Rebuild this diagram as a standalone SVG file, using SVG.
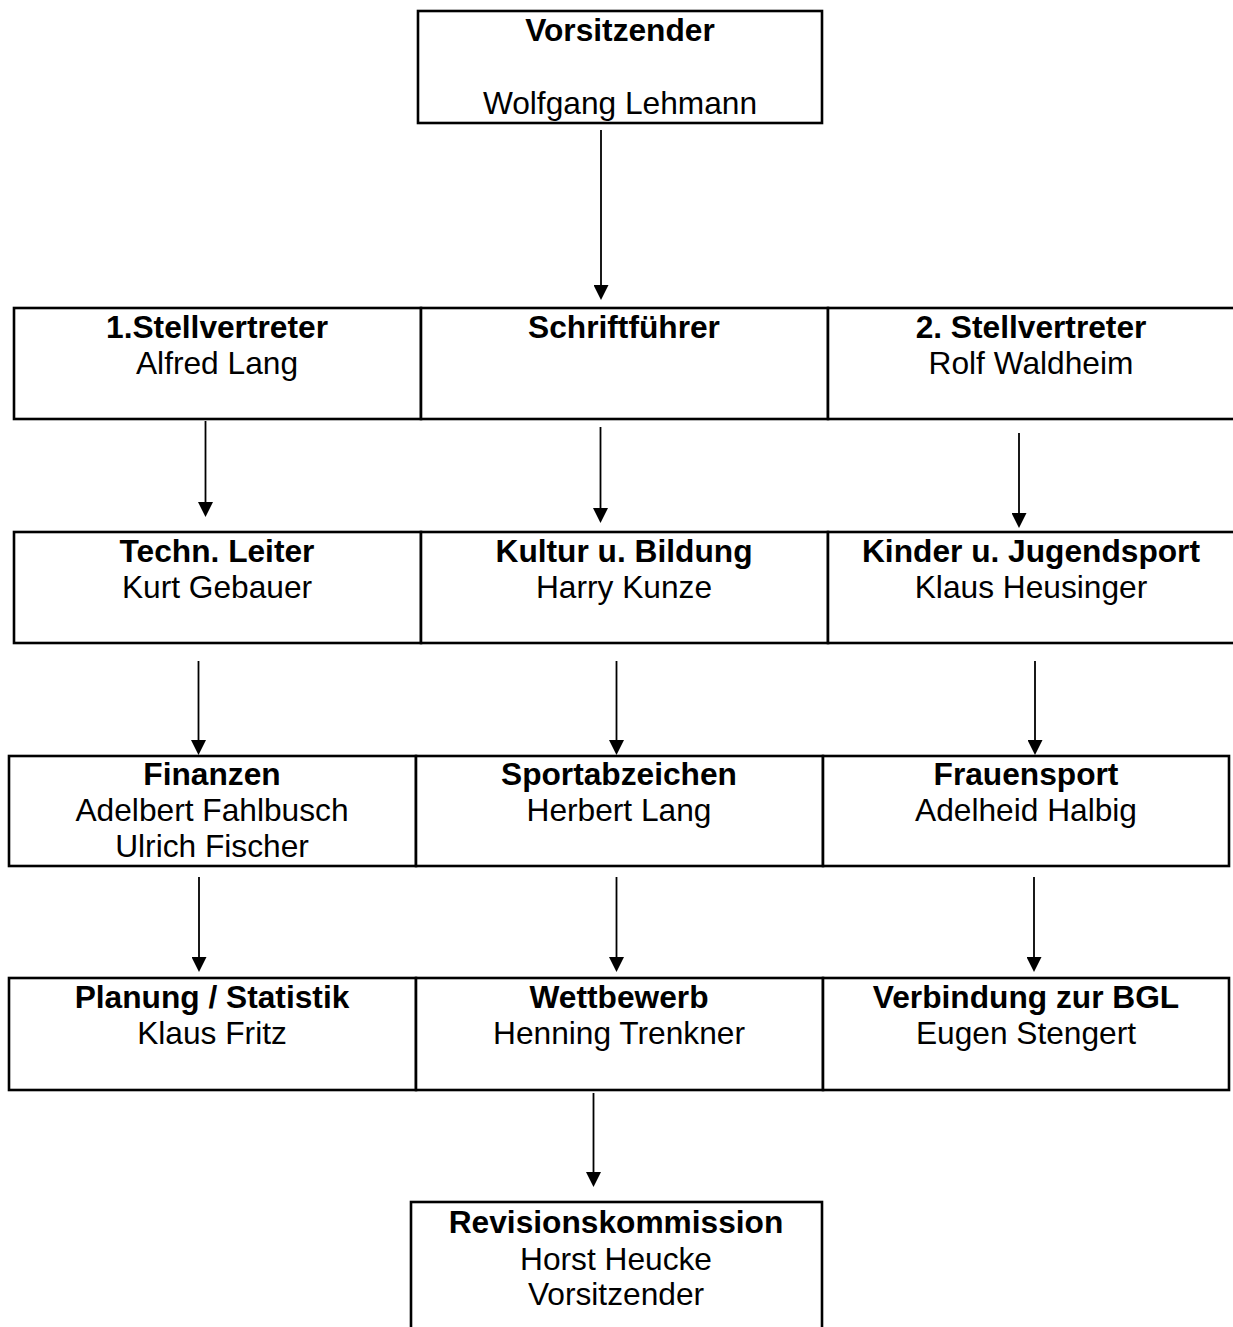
<svg xmlns="http://www.w3.org/2000/svg" width="1233" height="1327" viewBox="0 0 1233 1327">
<style>
.box{fill:#fff;stroke:#000;stroke-width:2.6}
.t{font-family:"Liberation Sans",Arial,sans-serif;font-size:31.7px;text-anchor:middle;fill:#000}
.b{font-weight:bold}
.c{stroke:#000;stroke-width:1.8;fill:none}
</style>
<defs>
<marker id="ah" viewBox="0 0 15 15" refX="11" refY="7.5" markerWidth="15" markerHeight="15" markerUnits="userSpaceOnUse" orient="auto">
<path d="M0,0 L15,7.5 L0,15 z" fill="#000"/>
</marker>
</defs>
<rect width="1233" height="1327" fill="#fff"/>

<g id="n-vorsitzender">
<rect class="box" x="418" y="11" width="404" height="112"/>
<text class="t b" x="620" y="41">Vorsitzender</text>
<text class="t" x="620" y="114">Wolfgang Lehmann</text>
</g>

<g id="n-stellv1">
<rect class="box" x="14" y="308" width="407" height="111"/>
<text class="t b" x="217" y="338">1.Stellvertreter</text>
<text class="t" x="217" y="374">Alfred Lang</text>
</g>
<g id="n-schrift">
<rect class="box" x="421" y="308" width="407" height="111"/>
<text class="t b" x="624" y="338">Schriftführer</text>
</g>
<g id="n-stellv2">
<rect class="box" x="828" y="308" width="407" height="111"/>
<text class="t b" x="1031" y="338">2. Stellvertreter</text>
<text class="t" x="1031" y="374">Rolf Waldheim</text>
</g>

<g id="n-techn">
<rect class="box" x="14" y="532" width="407" height="111"/>
<text class="t b" x="217" y="562">Techn. Leiter</text>
<text class="t" x="217" y="598">Kurt Gebauer</text>
</g>
<g id="n-kultur">
<rect class="box" x="421" y="532" width="407" height="111"/>
<text class="t b" x="624" y="562">Kultur u. Bildung</text>
<text class="t" x="624" y="598">Harry Kunze</text>
</g>
<g id="n-kinder">
<rect class="box" x="828" y="532" width="407" height="111"/>
<text class="t b" x="1031" y="562">Kinder u. Jugendsport</text>
<text class="t" x="1031" y="598">Klaus Heusinger</text>
</g>

<g id="n-finanzen">
<rect class="box" x="9" y="756" width="407" height="110"/>
<text class="t b" x="212" y="785">Finanzen</text>
<text class="t" x="212" y="821">Adelbert Fahlbusch</text>
<text class="t" x="212" y="857">Ulrich Fischer</text>
</g>
<g id="n-sportabz">
<rect class="box" x="416" y="756" width="407" height="110"/>
<text class="t b" x="619" y="785">Sportabzeichen</text>
<text class="t" x="619" y="821">Herbert Lang</text>
</g>
<g id="n-frauen">
<rect class="box" x="823" y="756" width="406" height="110"/>
<text class="t b" x="1026" y="785">Frauensport</text>
<text class="t" x="1026" y="821">Adelheid Halbig</text>
</g>

<g id="n-planung">
<rect class="box" x="9" y="978" width="407" height="112"/>
<text class="t b" x="212" y="1008">Planung / Statistik</text>
<text class="t" x="212" y="1044">Klaus Fritz</text>
</g>
<g id="n-wettbewerb">
<rect class="box" x="416" y="978" width="407" height="112"/>
<text class="t b" x="619" y="1008">Wettbewerb</text>
<text class="t" x="619" y="1044">Henning Trenkner</text>
</g>
<g id="n-bgl">
<rect class="box" x="823" y="978" width="406" height="112"/>
<text class="t b" x="1026" y="1008">Verbindung zur BGL</text>
<text class="t" x="1026" y="1044">Eugen Stengert</text>
</g>

<g id="n-revision">
<rect class="box" x="411" y="1202" width="411" height="140"/>
<text class="t b" x="616" y="1233">Revisionskommission</text>
<text class="t" x="616" y="1270">Horst Heucke</text>
<text class="t" x="616" y="1305">Vorsitzender</text>
</g>

<g id="connectors">
<path class="c" d="M601,130 V296" marker-end="url(#ah)"/>
<path class="c" d="M205.5,421 V513" marker-end="url(#ah)"/>
<path class="c" d="M600.5,427 V519" marker-end="url(#ah)"/>
<path class="c" d="M1019,433 V524" marker-end="url(#ah)"/>
<path class="c" d="M198.5,661 V751" marker-end="url(#ah)"/>
<path class="c" d="M616.5,661 V751" marker-end="url(#ah)"/>
<path class="c" d="M1035,661 V751" marker-end="url(#ah)"/>
<path class="c" d="M199,877 V968" marker-end="url(#ah)"/>
<path class="c" d="M616.5,877 V968" marker-end="url(#ah)"/>
<path class="c" d="M1034,877 V968" marker-end="url(#ah)"/>
<path class="c" d="M593.5,1093 V1183" marker-end="url(#ah)"/>
</g>
</svg>
